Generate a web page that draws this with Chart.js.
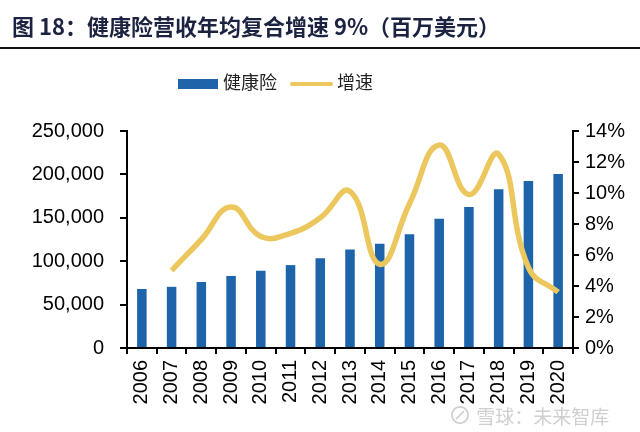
<!DOCTYPE html>
<html>
<head>
<meta charset="utf-8">
<script src="https://cdn.jsdelivr.net/npm/chart.js@4"></script>
<style>
    body { margin: 0; background: #fff; font-family: "Liberation Sans", Arial, sans-serif; }
    .wrap { position: relative; width: 640px; height: 432px; overflow: hidden; }
    .title { position: absolute; left: 12px; top: 9px; font: bold 22px "Noto Sans CJK SC", sans-serif; color: #1c2340; white-space: nowrap; }
    .rule { position: absolute; left: 0; top: 47px; width: 640px; height: 2px; background: #111; }
    .legend { position: absolute; top: 72px; left: 0; width: 640px; font: 18px "Noto Sans CJK SC", sans-serif; color: #222; }
    .legend span { position: absolute; }
    .mark { position: absolute; left: 448px; top: 396px; font: 19px "Noto Sans CJK SC", sans-serif; color: #cfcfcf; white-space: nowrap; }
    canvas { position: absolute; left: 0; top: 0; }
</style>
</head>
<body>
<div class="wrap">
    <canvas id="chart" width="640" height="432"></canvas>
    <div class="title">图 18：健康险营收年均复合增速 9%（百万美元）</div>
    <div class="rule"></div>
    <div class="legend">
        <span style="left:178px;top:7px;width:40px;height:10px;background:#1d64ab;"></span>
        <span style="left:223px;top:-4px;">健康险</span>
        <span style="left:290px;top:10px;width:43px;height:4px;background:#ecc75e;border-radius:2px;"></span>
        <span style="left:337px;top:-4px;">增速</span>
    </div>
    <div class="mark"><span style="font-size:24px;">⊘</span> 雪球：未来智库</div>
</div>
<script>
// ===== Data =====
const years = ['2006', '2007', '2008', '2009', '2010', '2011', '2012', '2013',
    '2014', '2015', '2016', '2017', '2018', '2019', '2020'];
const revenue = [68000, 70500, 76000, 83000, 89000, 95500, 103500, 113500,
    120000, 131000, 149000, 162500, 183000, 192500, 200500];
const growth = [null, 5.0, 7.0, 9.1, 7.2, 7.4, 8.4, 10.1,
    5.4, 9.3, 13.1, 9.9, 12.5, 5.2, 3.6];

const axisFont = { family: '"Liberation Sans", Arial, sans-serif', size: 20 };

new Chart(document.getElementById('chart'), {
    data: {
        labels: years,
        datasets: [
            {
                type: 'line',
                label: '增速',
                data: growth,
                yAxisID: 'y1',
                borderColor: '#ecc75e',
                borderWidth: 5.5,
                pointRadius: 0,
                tension: 0.45,
                spanGaps: false
            },
            {
                type: 'bar',
                label: '健康险',
                data: revenue,
                yAxisID: 'y',
                backgroundColor: '#1d64ab',
                barPercentage: 0.32,
                categoryPercentage: 1
            }
        ]
    },
    options: {
        responsive: false,
        animation: false,
        layout: { padding: { top: 131, left: 0, right: 0, bottom: 0 } },
        plugins: { legend: { display: false }, tooltip: { enabled: false } },
        scales: {
            x: {
                grid: { drawOnChartArea: false, color: '#000', tickLength: 6, lineWidth: 2 },
                border: { color: '#000', width: 2 },
                ticks: { color: '#000', font: axisFont, minRotation: 90, maxRotation: 90, padding: 6 },
                afterFit: (s) => { s.height = 84; }
            },
            y: {
                position: 'left',
                min: 0, max: 250000,
                grid: { drawOnChartArea: false, color: '#000', tickLength: 7, lineWidth: 2 },
                border: { color: '#000', width: 2 },
                ticks: {
                    stepSize: 50000, color: '#000', font: axisFont, padding: 16,
                    callback: (v) => v.toLocaleString('en-US')
                },
                afterFit: (s) => { s.width = 127; }
            },
            y1: {
                position: 'right',
                min: 0, max: 14,
                grid: { drawOnChartArea: false, color: '#000', tickLength: 6, lineWidth: 2 },
                border: { color: '#000', width: 2 },
                ticks: {
                    stepSize: 2, color: '#000', font: axisFont, padding: 6,
                    callback: (v) => v + '%'
                },
                afterFit: (s) => { s.width = 67; }
            }
        }
    }
});
</script>
</body>
</html>
